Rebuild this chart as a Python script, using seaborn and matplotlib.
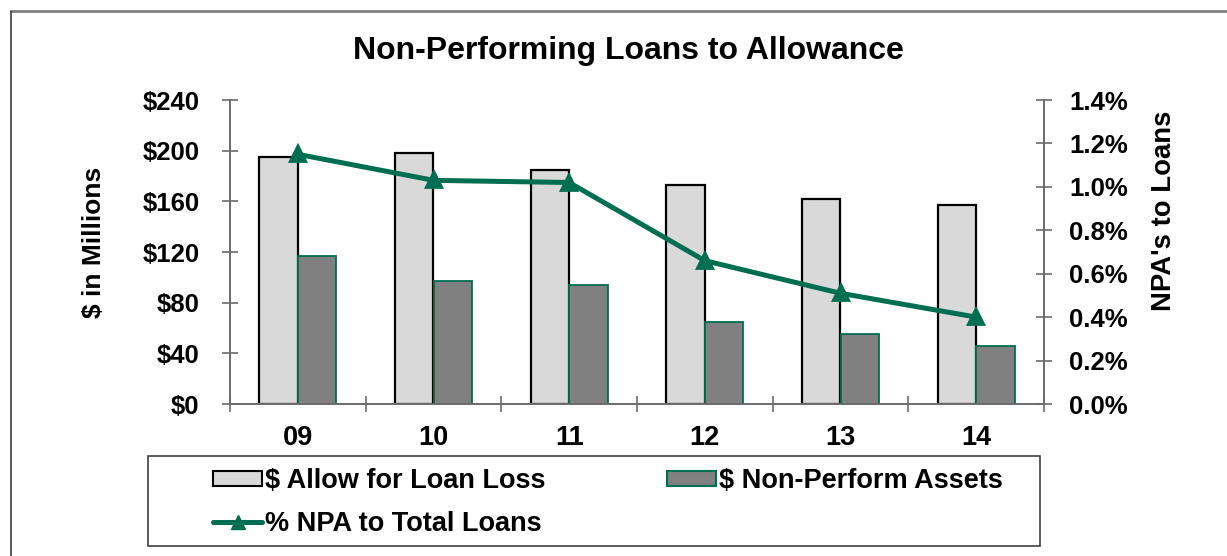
import numpy as np
import pandas as pd
import matplotlib
matplotlib.use("Agg")
import matplotlib.pyplot as plt
import seaborn as sns
from matplotlib.lines import Line2D
from matplotlib.patches import Patch, Rectangle

# ---- data ----
years = ["09", "10", "11", "12", "13", "14"]
allowance = [195, 198, 185, 173, 162, 157]        # $ millions
non_perform = [117, 97, 94, 65, 55, 46]           # $ millions
npa_pct = [1.15, 1.03, 1.02, 0.66, 0.51, 0.40]    # % of total loans
bar_series = ["$ Allow for Loan Loss", "$ Non-Perform Assets"]
line_series = "% NPA to Total Loans"
left_ticks = [0, 40, 80, 120, 160, 200, 240]
right_ticks = [0.0, 0.2, 0.4, 0.6, 0.8, 1.0, 1.2, 1.4]

# ---- style ----
sns.set_style("white")
plt.rcParams["font.family"] = ["Liberation Sans", "DejaVu Sans"]
plt.rcParams["font.weight"] = "bold"
plt.rcParams["text.parse_math"] = False
for key in ("text.color", "axes.labelcolor", "xtick.labelcolor", "ytick.labelcolor"):
    plt.rcParams[key] = "black"

LIGHT = "#d9d9d9"
DARK = "#808080"
GREEN = "#006e50"
SPINE = "#6b6b6b"

W, H = 1227, 556
fig = plt.figure(figsize=(W / 100, H / 100), dpi=100)
ax = fig.add_axes([230 / W, 1 - 404 / H, (1044 - 230) / W, (404 - 100) / H])

df = pd.DataFrame({
    "Year": years * 2,
    "Value": allowance + non_perform,
    "Series": [bar_series[0]] * len(years) + [bar_series[1]] * len(years),
})
sns.barplot(data=df, x="Year", y="Value", hue="Series", hue_order=bar_series,
            palette=[LIGHT, DARK], saturation=1, width=0.57, ax=ax, legend=False)
for bar in ax.containers[0]:
    bar.set_edgecolor("black")
    bar.set_linewidth(1.6)
for bar in ax.containers[1]:
    bar.set_edgecolor(GREEN)
    bar.set_linewidth(1.3)

ax2 = ax.twinx()
sns.pointplot(x=years, y=npa_pct, ax=ax2, color=GREEN, markers="^",
              markersize=10, linewidth=3.6, errorbar=None)

# ---- left axis ----
ax.set_ylim(0, 240)
ax.set_yticks(left_ticks)
ax.set_yticklabels([f"${v}" for v in left_ticks])
ax.tick_params(axis="y", direction="inout", length=12, width=1.2, color=SPINE,
               pad=16, labelsize=18.5, left=True)
ax.set_ylabel("$ in Millions", fontsize=19, fontweight="bold", va="center", ha="center")
ax.yaxis.set_label_coords(-0.167, 0.533)

# ---- right axis ----
ax2.set_ylim(0, 1.4)
ax2.set_yticks(right_ticks)
ax2.set_yticklabels([f"{v:.1f}%" for v in right_ticks])
ax2.tick_params(axis="y", direction="inout", length=12, width=1.2, color=SPINE,
                pad=12, labelsize=18.5, right=True)
ax2.set_ylabel("NPA's to Loans", fontsize=19.8, fontweight="bold", va="center", ha="center")
ax2.yaxis.set_label_coords(1.1474, 0.635)

# ---- category axis ----
ax.set_xlim(-0.5, len(years) - 0.5)
ax.set_xticks(range(len(years)))
ax.set_xticklabels(years)
ax.set_xticks(np.arange(-0.5, len(years), 1.0), minor=True)
ax.tick_params(axis="x", which="major", length=0, pad=15, labelsize=19.5)
ax.tick_params(axis="x", which="minor", direction="inout", length=11, width=1.2,
               color=SPINE, bottom=True)
ax.set_xlabel("")

for a in (ax, ax2):
    for s in a.spines.values():
        s.set_color(SPINE)
        s.set_linewidth(1.4)
    a.spines["top"].set_visible(False)
ax.spines["right"].set_visible(False)
ax2.spines["left"].set_visible(False)
ax2.spines["bottom"].set_visible(False)

# ---- title ----
fig.text(628 / W, 1 - 51 / H, "Non-Performing Loans to Allowance",
         ha="center", va="center", fontsize=23, fontweight="bold")

# ---- page frame lines ----
fig.add_artist(Line2D([11 / W, 1], [1 - 11 / H, 1 - 11 / H], color="#808080",
                      lw=2, transform=fig.transFigure))
fig.add_artist(Line2D([11 / W, 11 / W], [0, 1 - 11 / H], color="#404040",
                      lw=1.2, transform=fig.transFigure))

# ---- legend ----
fig.add_artist(Rectangle((148 / W, 1 - 546 / H), (1040 - 148) / W, (546 - 456) / H,
                         transform=fig.transFigure, fill=False,
                         edgecolor="#404040", lw=1.2))
handles = [
    Patch(facecolor=LIGHT, edgecolor="black", lw=1.5),
    Line2D([], [], color=GREEN, lw=3.6, marker="^", markersize=10),
    Patch(facecolor=DARK, edgecolor=GREEN, lw=1.5),
]
labels = [bar_series[0], line_series, bar_series[1]]
fig.legend(handles, labels, ncol=2, loc="upper left",
           bbox_to_anchor=(213 / W, 1 - 468 / H), frameon=False, borderpad=0,
           borderaxespad=0, handlelength=1.81, handleheight=0.5, handletextpad=0.11,
           columnspacing=4.5, labelspacing=0.63,
           prop={"size": 19.5, "weight": "bold"})

fig.savefig("out.png", dpi=100)
